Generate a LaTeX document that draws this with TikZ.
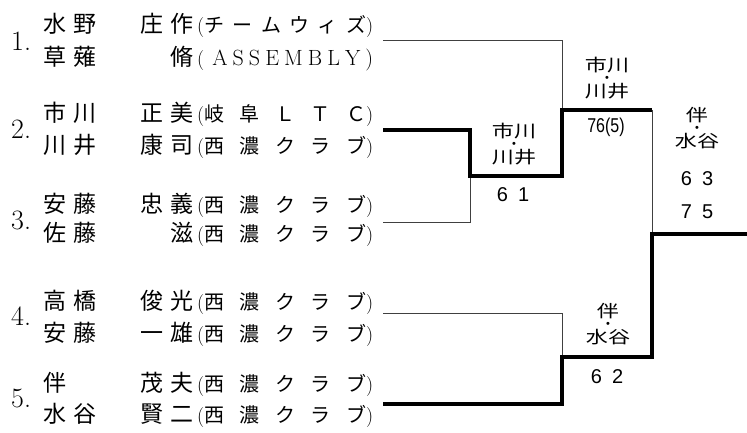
\documentclass[tikz,border=0pt]{standalone}
\usepackage{fontspec}
\newfontfamily\jp{Noto Sans CJK JP}
\newfontfamily\jpwide[FakeStretch=1.3]{Noto Sans CJK JP}
\newfontfamily\arial{Liberation Sans}
\newfontfamily\arialn[FakeStretch=0.8]{Liberation Sans}
% club name spread over the whole column
\newcommand{\kumi}[1]{\makebox[176pt][s]{{\rmfamily(}\hspace{0pt plus .4fil}#1\hspace{0pt plus .4fil}{\rmfamily)}}}
% small middle dot between the two names
\newcommand{\nakaten}{\\[-5pt]{\arial\fontsize{11}{11}\selectfont\raisebox{2.5pt}{•}}\\[-5pt]}
\tikzset{
  num/.style={anchor=base west,inner sep=0pt,font=\fontsize{28}{28}\selectfont},
  sei/.style={anchor=base west,inner sep=0pt,font=\jp\fontsize{23}{23}\selectfont},
  mei/.style={anchor=base east,inner sep=0pt,font=\jp\fontsize{23}{23}\selectfont},
  club/.style={anchor=base west,inner sep=0pt,font=\jp\fontsize{20}{20}\selectfont},
  pair/.style={align=center,inner sep=0pt,font=\jpwide\fontsize{17}{18}\selectfont},
  score/.style={align=center,inner sep=0pt,font=\arial\fontsize{20}{33}\selectfont},
  lose/.style={line width=0.8pt,black!75},
  win/.style={line width=3.5pt,line join=miter},
}
\begin{document}
\begin{tikzpicture}[x=1pt,y=-1pt]
\useasboundingbox (0,0) rectangle (747,432);
% 1.
\node[num] (n1) at (11,50) {1.};
\node[sei] (a1) at (43,32) {水\hspace{7pt}野};
\node[mei] (b1) at (194,32) {庄\hspace{7pt}作};
\node[club] (c1) at (197,32) {\kumi{チ\hfill ー\hfill ム\hfill ウ\hfill ィ\hfill ズ}};
\node[sei] (a1b) at (43,65) {草\hspace{7pt}薙};
\node[mei] (b1b) at (194,65) {脩};
\node[club] (c1b) at (197,65) {\kumi{\hspace{8pt}\fontsize{22}{22}\selectfont\rmfamily A\hfill S\hfill S\hfill E\hfill M\hfill B\hfill L\hfill Y\hspace{5pt}}};
% 2.
\node[num] (n2) at (11,138) {2.};
\node[sei] (a2) at (43,121) {市\hspace{7pt}川};
\node[mei] (b2) at (194,121) {正\hspace{7pt}美};
\node[club] (c2) at (197,121) {\kumi{岐\hfill 阜\hfill Ｌ\hfill Ｔ\hfill Ｃ}};
\node[sei] (a2b) at (43,153) {川\hspace{7pt}井};
\node[mei] (b2b) at (194,153) {康\hspace{7pt}司};
\node[club] (c2b) at (197,153) {\kumi{西\hfill 濃\hfill ク\hfill ラ\hfill ブ}};
% 3.
\node[num] (n3) at (11,229) {3.};
\node[sei] (a3) at (43,212) {安\hspace{7pt}藤};
\node[mei] (b3) at (194,212) {忠\hspace{7pt}義};
\node[club] (c3) at (197,212) {\kumi{西\hfill 濃\hfill ク\hfill ラ\hfill ブ}};
\node[sei] (a3b) at (43,241) {佐\hspace{7pt}藤};
\node[mei] (b3b) at (194,241) {滋};
\node[club] (c3b) at (197,241) {\kumi{西\hfill 濃\hfill ク\hfill ラ\hfill ブ}};
% 4.
\node[num] (n4) at (11,325) {4.};
\node[sei] (a4) at (43,309) {高\hspace{7pt}橋};
\node[mei] (b4) at (194,309) {俊\hspace{7pt}光};
\node[club] (c4) at (197,309) {\kumi{西\hfill 濃\hfill ク\hfill ラ\hfill ブ}};
\node[sei] (a4b) at (43,341) {安\hspace{7pt}藤};
\node[mei] (b4b) at (194,341) {一\hspace{7pt}雄};
\node[club] (c4b) at (197,341) {\kumi{西\hfill 濃\hfill ク\hfill ラ\hfill ブ}};
% 5.
\node[num] (n5) at (11,407) {5.};
\node[sei] (a5) at (43,391) {伴};
\node[mei] (b5) at (194,391) {茂\hspace{7pt}夫};
\node[club] (c5) at (197,391) {\kumi{西\hfill 濃\hfill ク\hfill ラ\hfill ブ}};
\node[sei] (a5b) at (43,422) {水\hspace{7pt}谷};
\node[mei] (b5b) at (194,422) {賢\hspace{7pt}二};
\node[club] (c5b) at (197,422) {\kumi{西\hfill 濃\hfill ク\hfill ラ\hfill ブ}};
% winners and scores
\node[pair] (m1) at (514,144) {市川\nakaten 川井};
\node[score] (s1) at (513,195) {6\hspace{10pt}1};
\node[pair] (m2) at (607,78) {市川\nakaten 川井};
\node[score,font=\arialn\fontsize{20}{20}\selectfont] (s2) at (606,127) {76(5)};
\node[pair] (m3) at (608,324) {伴\nakaten 水谷};
\node[score] (s3) at (607,377) {6\hspace{10pt}2};
\node[pair] (m4) at (697,128) {伴\nakaten 水谷};
\node[score] (s4) at (697,195) {6\hspace{10pt}3\\7\hspace{10pt}5};
% bracket
\coordinate (e1) at (383,40);
\coordinate (e2) at (383,130);
\coordinate (e3) at (383,222);
\coordinate (e4) at (383,313);
\coordinate (e5) at (383,404);
\coordinate (w1) at (470,176);
\coordinate (w2) at (562,110);
\coordinate (w3) at (562,357);
\coordinate (w4) at (652,234);
\coordinate (champ) at (747,234);
\draw[lose] (e3) -| (w1);
\draw[lose] (e1) -| (w2);
\draw[lose] (e4) -| (w3);
\draw[lose] (w2 -| w4) -- (w4);
\draw[win] (e2) -| (w1) -| (w2) -- (w2 -| w4);
\draw[win] (e5) -| (w3) -| (w4) -- (champ);
\end{tikzpicture}
\end{document}
